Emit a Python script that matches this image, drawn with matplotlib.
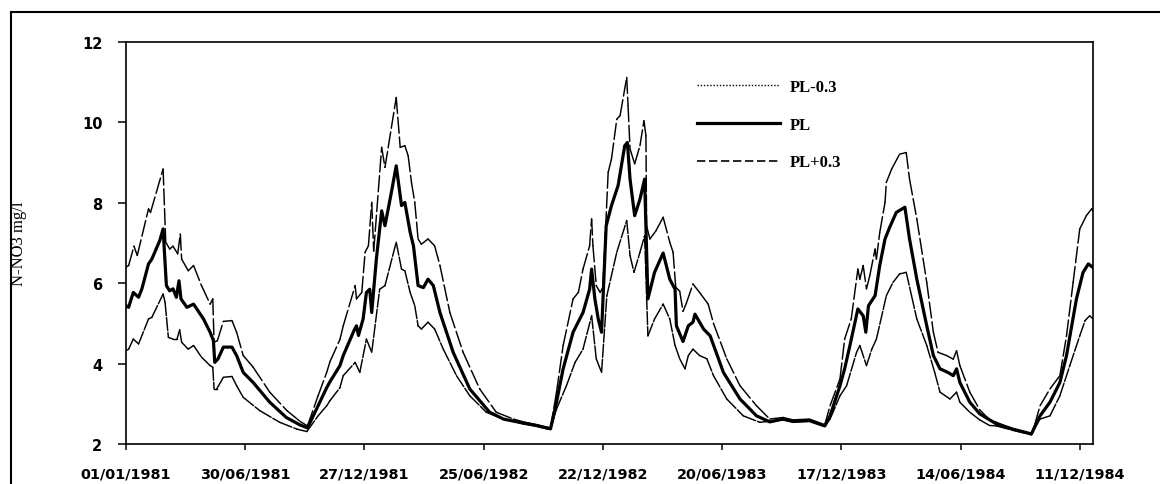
import numpy as np
import pandas as pd
import matplotlib
matplotlib.use("Agg")
import matplotlib.pyplot as plt
import matplotlib.dates as mdates
from matplotlib.collections import LineCollection
from matplotlib.lines import Line2D
from matplotlib.patches import Rectangle

# ---------------- data ----------------
START = "1981-01-01"
END = "1984-12-31"
tick_labels = ["01/01/1981", "30/06/1981", "27/12/1981", "25/06/1982", "22/12/1982",
               "20/06/1983", "17/12/1983", "14/06/1984", "11/12/1984"]
y_ticks = [2, 4, 6, 8, 10, 12]
series_labels = ["PL-0.3", "PL", "PL+0.3"]

# PL (days since 01/01/1981, N-NO3 mg/l)
pl_days = [0, 4, 11, 19, 24, 34, 39, 51, 56, 61, 66, 71, 76, 80, 83, 92, 102, 117, 127, 132,
           134, 139, 147, 160, 167, 177, 192, 217, 242, 262, 274, 290, 303, 308, 323, 328, 345,
           348, 351, 358, 363, 368, 371, 378, 386, 391, 400, 408, 416, 421, 429, 434, 441, 449,
           456, 464, 474, 494, 519, 549, 570, 600, 620, 635, 641, 650, 660, 675, 690, 700, 703,
           708, 713, 718, 725, 733, 743, 753, 757, 761, 768, 776, 783, 788, 798, 811, 821, 829,
           831, 841, 849, 856, 859, 872, 882, 902, 927, 952, 972, 992, 1007, 1032, 1055, 1063,
           1078, 1085, 1093, 1105, 1113, 1117, 1121, 1131, 1138, 1146, 1153, 1163, 1176, 1183,
           1194, 1209, 1219, 1229, 1241, 1249, 1254, 1259, 1274, 1289, 1314, 1339, 1367, 1372,
           1380, 1395, 1410, 1420, 1435, 1445, 1453, 1460]
pl_vals = [5.44, 5.40, 5.77, 5.65, 5.86, 6.48, 6.60, 7.06, 7.35, 5.94, 5.81, 5.86, 5.65, 6.06,
           5.61, 5.40, 5.48, 5.11, 4.78, 4.57, 4.03, 4.12, 4.41, 4.41, 4.20, 3.78, 3.53, 3.04,
           2.66, 2.48, 2.40, 2.95, 3.40, 3.55, 3.95, 4.20, 4.85, 4.94, 4.70, 5.11, 5.77, 5.85,
           5.27, 6.60, 7.80, 7.43, 8.20, 8.92, 7.93, 8.01, 7.27, 6.93, 5.94, 5.89, 6.10, 5.94,
           5.27, 4.28, 3.37, 2.79, 2.62, 2.52, 2.46, 2.40, 2.38, 3.04, 3.87, 4.78, 5.27, 5.85,
           6.35, 5.60, 5.11, 4.78, 7.43, 7.93, 8.43, 9.42, 9.50, 8.59, 7.68, 8.09, 8.59, 5.61,
           6.27, 6.75, 6.10, 5.85, 4.94, 4.55, 4.94, 5.03, 5.23, 4.86, 4.69, 3.78, 3.12, 2.70,
           2.55, 2.62, 2.56, 2.58, 2.45, 2.70, 3.45, 3.87, 4.45, 5.36, 5.19, 4.78, 5.44, 5.69,
           6.44, 7.10, 7.39, 7.76, 7.89, 7.10, 6.10, 4.94, 4.20, 3.87, 3.78, 3.70, 3.87, 3.53,
           3.04, 2.75, 2.50, 2.37, 2.25, 2.42, 2.70, 3.04, 3.53, 4.20, 5.61, 6.27, 6.48, 6.39]

# PL+0.3
plp_days = [0, 4, 12, 17, 34, 37, 56, 60, 66, 71, 78, 82, 84, 94, 102, 114, 127, 131, 133, 138,
            147, 160, 167, 177, 192, 217, 243, 263, 274, 290, 303, 308, 323, 328, 346, 348, 356,
            361, 366, 371, 374, 386, 391, 408, 414, 421, 426, 431, 436, 441, 446, 456, 466, 474,
            489, 509, 534, 559, 585, 600, 620, 635, 641, 650, 660, 675, 683, 690, 700, 703, 705,
            710, 716, 720, 728, 733, 741, 746, 756, 758, 761, 768, 776, 782, 785, 786, 791, 800,
            811, 821, 826, 830, 836, 841, 846, 856, 866, 879, 887, 907, 927, 952, 972, 992, 1007,
            1032, 1055, 1063, 1078, 1085, 1095, 1105, 1108, 1113, 1118, 1123, 1131, 1133, 1138,
            1146, 1148, 1156, 1168, 1178, 1183, 1194, 1209, 1219, 1226, 1239, 1249, 1254, 1259,
            1274, 1289, 1304, 1314, 1339, 1367, 1372, 1380, 1395, 1410, 1420, 1430, 1440, 1450,
            1458, 1460]
plp_vals = [6.40, 6.44, 6.92, 6.69, 7.85, 7.76, 8.84, 7.02, 6.85, 6.92, 6.73, 7.22, 6.60, 6.31,
            6.44, 5.94, 5.48, 5.61, 4.53, 4.57, 5.05, 5.07, 4.78, 4.20, 3.91, 3.29, 2.83, 2.56,
            2.45, 3.20, 3.78, 4.05, 4.60, 4.94, 5.94, 5.61, 5.77, 6.77, 6.93, 8.01, 6.80, 9.38,
            8.88, 10.62, 9.38, 9.42, 9.17, 8.51, 8.01, 7.10, 6.97, 7.10, 6.93, 6.44, 5.27, 4.28,
            3.37, 2.79, 2.62, 2.55, 2.48, 2.42, 2.40, 3.29, 4.45, 5.61, 5.77, 6.35, 6.93, 7.60,
            6.93, 5.94, 5.77, 5.90, 8.76, 9.09, 10.08, 10.17, 11.12, 10.42, 9.34, 8.97, 9.42,
            10.04, 9.67, 7.43, 7.10, 7.30, 7.64, 7.02, 6.77, 5.90, 5.80, 5.30, 5.50, 5.98, 5.77,
            5.48, 5.00, 4.12, 3.45, 2.95, 2.62, 2.66, 2.60, 2.62, 2.48, 2.95, 3.62, 4.61, 5.11,
            6.35, 6.10, 6.44, 5.86, 6.19, 6.85, 6.60, 7.26, 8.01, 8.51, 8.84, 9.21, 9.25, 8.59,
            7.60, 6.02, 4.78, 4.28, 4.20, 4.11, 4.32, 3.95, 3.29, 2.85, 2.60, 2.54, 2.38, 2.26,
            2.48, 2.95, 3.37, 3.70, 4.69, 6.02, 7.35, 7.68, 7.85, 7.80]

# PL-0.3
plm_days = [0, 4, 11, 19, 34, 39, 56, 59, 64, 71, 77, 81, 84, 94, 102, 114, 127, 131, 133, 137,
            147, 160, 167, 177, 202, 232, 258, 273, 290, 303, 308, 323, 328, 346, 353, 363, 371,
            383, 391, 408, 416, 421, 429, 436, 441, 446, 456, 466, 479, 499, 519, 544, 570, 600,
            620, 635, 641, 650, 665, 678, 690, 703, 710, 718, 726, 741, 756, 761, 767, 776, 783,
            788, 798, 811, 821, 829, 836, 844, 849, 856, 866, 877, 887, 907, 932, 957, 992, 1007,
            1032, 1055, 1063, 1078, 1088, 1103, 1108, 1118, 1126, 1133, 1148, 1158, 1168, 1178,
            1186, 1194, 1209, 1221, 1229, 1244, 1254, 1259, 1274, 1289, 1304, 1314, 1339, 1367,
            1372, 1380, 1395, 1410, 1425, 1440, 1448, 1455, 1460]
plm_vals = [4.32, 4.36, 4.61, 4.49, 5.11, 5.15, 5.73, 5.52, 4.65, 4.61, 4.61, 4.84, 4.53, 4.36,
            4.45, 4.16, 3.95, 3.91, 3.37, 3.37, 3.66, 3.68, 3.45, 3.16, 2.83, 2.54, 2.37, 2.31,
            2.70, 2.95, 3.08, 3.40, 3.70, 4.03, 3.78, 4.61, 4.28, 5.85, 5.94, 7.02, 6.35, 6.31,
            5.77, 5.44, 4.94, 4.86, 5.03, 4.86, 4.36, 3.70, 3.20, 2.79, 2.62, 2.50, 2.44, 2.38,
            2.36, 2.87, 3.45, 4.03, 4.36, 5.19, 4.12, 3.78, 5.69, 6.77, 7.56, 6.69, 6.27, 6.77,
            7.18, 4.69, 5.11, 5.48, 5.11, 4.45, 4.12, 3.87, 4.20, 4.36, 4.20, 4.12, 3.70, 3.12,
            2.70, 2.54, 2.60, 2.55, 2.57, 2.44, 2.62, 3.20, 3.45, 4.28, 4.45, 3.95, 4.36, 4.61,
            5.69, 6.02, 6.23, 6.27, 5.69, 5.11, 4.45, 3.78, 3.29, 3.12, 3.29, 3.04, 2.79, 2.60,
            2.46, 2.45, 2.34, 2.23, 2.40, 2.62, 2.70, 3.20, 3.95, 4.69, 5.07, 5.19, 5.11]

# ---------------- figure ----------------
W, H = 1160, 485
fig = plt.figure(figsize=(W / 100, H / 100), dpi=100)
ax = fig.add_axes([126 / W, (H - 445) / H, (1093 - 126) / W, (445 - 43) / H])

start = pd.Timestamp(START)


def to_x(days):
    return mdates.date2num(start + pd.to_timedelta(np.asarray(days), unit="D"))


def segment_line(days, vals, dashes, lw):
    # each segment restarts its dash pattern (as in the original spreadsheet chart)
    pts = np.column_stack([to_x(days), np.asarray(vals, dtype=float)])
    segs = np.stack([pts[:-1], pts[1:]], axis=1)
    lc = LineCollection(segs, colors="black", linewidths=lw,
                        linestyles=[(0, dashes)], capstyle="round", joinstyle="round")
    ax.add_collection(lc)


segment_line(plm_days, plm_vals, (9, 1.4), 1.05)
segment_line(plp_days, plp_vals, (11, 2.6), 1.05)
ax.plot(to_x(pl_days), pl_vals, color="black", lw=2.3, solid_joinstyle="round")

ax.set_xlim(to_x([0])[0], mdates.date2num(pd.Timestamp(END)))
ax.set_ylim(min(y_ticks), max(y_ticks))
ax.set_yticks(y_ticks)
tick_dates = pd.to_datetime(tick_labels, format="%d/%m/%Y")
ax.set_xticks(mdates.date2num(tick_dates))
ax.set_xticklabels(tick_labels)

for s in ax.spines.values():
    s.set_linewidth(1.2)
ax.tick_params(axis="x", direction="out", length=4, width=1.1, pad=12,
               labelsize=10.4)
ax.tick_params(axis="y", direction="out", length=6, width=1.1, pad=11,
               labelsize=10.5)
for lab in ax.get_xticklabels() + ax.get_yticklabels():
    lab.set_fontweight("bold")
    lab.set_family("DejaVu Sans")

ax.set_ylabel("N-NO3 mg/l", family="Liberation Serif", fontsize=12)
ax.yaxis.set_label_coords((27 - 126) / (1093 - 126), 0.5)

handles = [Line2D([], [], color="black", lw=1.0, linestyle=(0, (1, 1.3))),
           Line2D([], [], color="black", lw=2.3),
           Line2D([], [], color="black", lw=1.2, linestyle=(0, (5, 2.2)))]
leg = fig.legend(handles, series_labels, loc="upper left",
                 bbox_to_anchor=(697 / W, (H - 80) / H), frameon=False,
                 borderpad=0, borderaxespad=0, handlelength=5.0, handletextpad=0.55,
                 labelspacing=1.3,
                 prop={"family": "Liberation Serif", "weight": "bold", "size": 12})

# outer frame of the scanned figure
fig.add_artist(Rectangle((11 / W, -0.2), 1.2, (H - 13) / H + 0.2,
                         transform=fig.transFigure, fill=False, lw=1.5,
                         edgecolor="black", clip_on=False))

fig.savefig("out.png", dpi=100)
